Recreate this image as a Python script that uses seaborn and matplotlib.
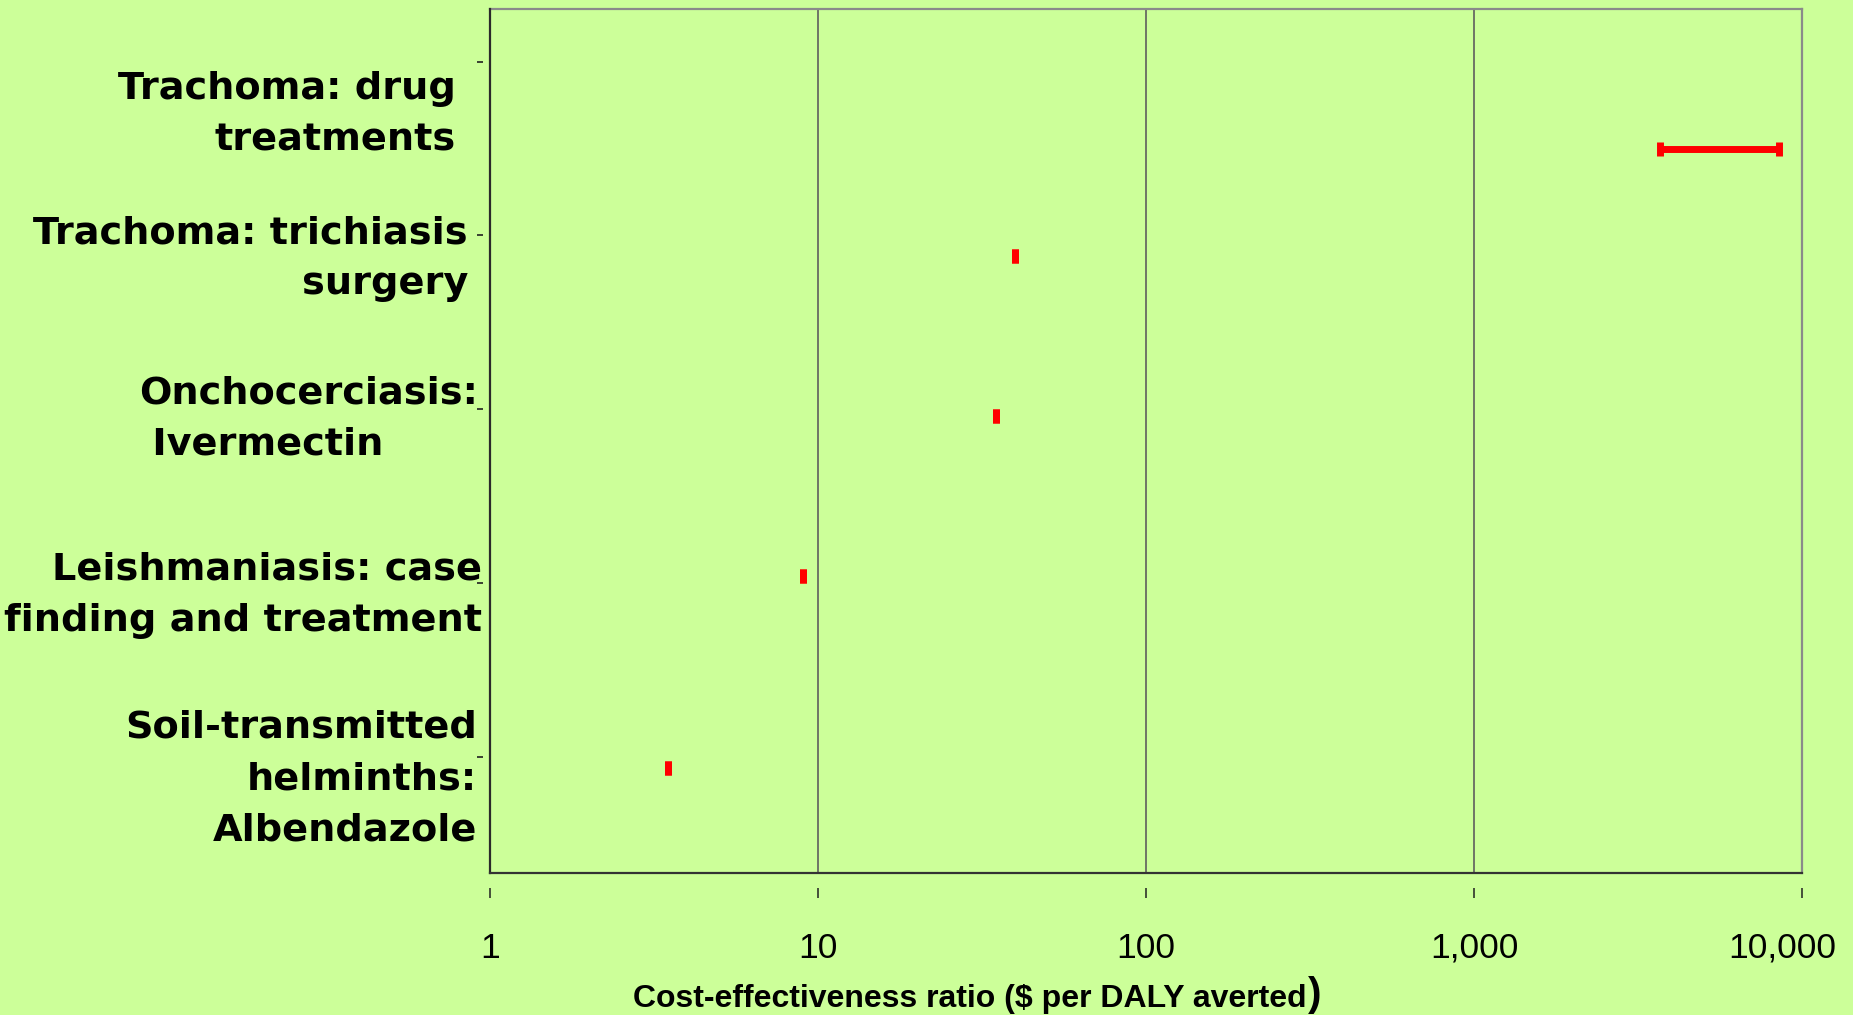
import matplotlib
matplotlib.use("Agg")
import matplotlib.pyplot as plt
from matplotlib.transforms import ScaledTranslation
import seaborn as sns
import pandas as pd

# Interventions and their cost-effectiveness ranges ($ per DALY averted)
categories = [
    "Trachoma: drug\ntreatments",
    "Trachoma: trichiasis\nsurgery",
    "Onchocerciasis:\n Ivermectin",
    "Leishmaniasis: case\nfinding and treatment",
    "Soil-transmitted\nhelminths:\nAlbendazole",
]
cost_low = [3700, 40, 35, 9, 3.5]
cost_high = [8500, 40, 35, 9, 3.5]

x_ticks = [1, 10, 100, 1000, 10000]
x_tick_labels = ["1", "10", "100", "1,000", "10,000"]
x_title = "Cost-effectiveness ratio ($ per DALY averted"

# Layout (axes fractions) for rows, tick marks and category labels
row_y = [0.8376, 0.7145, 0.5293, 0.3441, 0.1219]
ytick_y = [0.9387, 0.7384, 0.5370, 0.3356, 0.1343]
label_right_px = [456, 468, 478, 482, 477]
label_top_px = [71, 215, 375.5, 552, 710]
label_align = ["right", "right", "left", "right", "right"]

BG = "#CCFF99"
RED = "#FF0000"

sns.set_theme(style="white", rc={"axes.facecolor": BG, "figure.facecolor": BG})
plt.rcParams["font.family"] = ["DejaVu Sans"]

W, H = 1853, 1015
fig = plt.figure(figsize=(W / 100, H / 100), dpi=100)
ax_l, ax_r, ax_t, ax_b = 490, 1802, 9, 873
ax = fig.add_axes([ax_l / W, 1 - ax_b / H, (ax_r - ax_l) / W, (ax_b - ax_t) / H])
ax.set_facecolor(BG)

ax.set_xscale("log")
ax.set_xlim(1, 10000)
ax.set_ylim(0, 1)

# Range lines
ax.hlines(row_y, cost_low, cost_high, color=RED, linewidth=5, zorder=4,
          capstyle="butt")

# End caps of each range
ends = pd.DataFrame({
    "cost": cost_low + cost_high,
    "y": row_y + row_y,
})
sns.scatterplot(data=ends, x="cost", y="y", marker="|", s=88, linewidth=5,
                color=RED, ax=ax, zorder=5, legend=False)

# Vertical gridlines at the decades
ax.set_xticks(x_ticks, x_tick_labels)
ax.xaxis.set_minor_locator(matplotlib.ticker.NullLocator())
ax.grid(axis="x", color="#5E5E5E", linewidth=1.2, zorder=1)
ax.set_axisbelow(True)

# Ticks sit off the frame, so the spines are moved outward and hidden
ax.spines["bottom"].set_position(("outward", 11))
ax.spines["left"].set_position(("outward", 5))
for s in ax.spines.values():
    s.set_visible(False)

ax.tick_params(axis="x", direction="out", length=7.2, width=1.1, color="#202020",
               pad=24, labelsize=25.5, labelcolor="black", bottom=True)
xlabs = ax.get_xticklabels()
for lab in xlabs:
    lab.set_fontfamily("Liberation Sans")
# keep the last label inside the figure
xlabs[-1].set_transform(xlabs[-1].get_transform()
                        + ScaledTranslation(-0.2, 0, fig.dpi_scale_trans))
ax.set_yticks(ytick_y)
ax.set_yticklabels([])
ax.tick_params(axis="y", direction="out", length=4.3, width=1.2, color="#202020",
               left=True)
ax.set_xlabel("")
ax.set_ylabel("")

# Frame drawn on its own
frame_kw = dict(transform=ax.transAxes, clip_on=False, zorder=6,
                solid_capstyle="projecting")
ax.plot([0, 1], [1, 1], color="#8A8A8A", linewidth=1.6, **frame_kw)
ax.plot([1, 1], [0, 1], color="#8A8A8A", linewidth=1.6, **frame_kw)
ax.plot([0, 0], [0, 1], color="#2A2A2A", linewidth=1.6, **frame_kw)
ax.plot([0, 1], [0, 0], color="#333333", linewidth=1.6, **frame_kw)

# Category labels
for text, rx, ty, al in zip(categories, label_right_px, label_top_px, label_align):
    fig.text(rx / W, 1 - ty / H, text, ha="right", va="top", multialignment=al,
             fontsize=27.5, fontweight="bold", color="black", linespacing=1.55,
             family="DejaVu Sans")

# Axis title, with a larger closing parenthesis
title = fig.text(633 / W, 1 - 1007 / H, x_title, ha="left", va="baseline",
                 fontsize=23, fontweight="bold", family="Liberation Sans",
                 color="black")
fig.canvas.draw()
bb = title.get_window_extent()
fig.text((bb.x1 + 1) / W, 1 - 1006 / H, ")", ha="left", va="baseline",
         fontsize=29, fontweight="bold", family="Liberation Sans", color="black")

fig.savefig("out.png", dpi=100, facecolor=BG)
